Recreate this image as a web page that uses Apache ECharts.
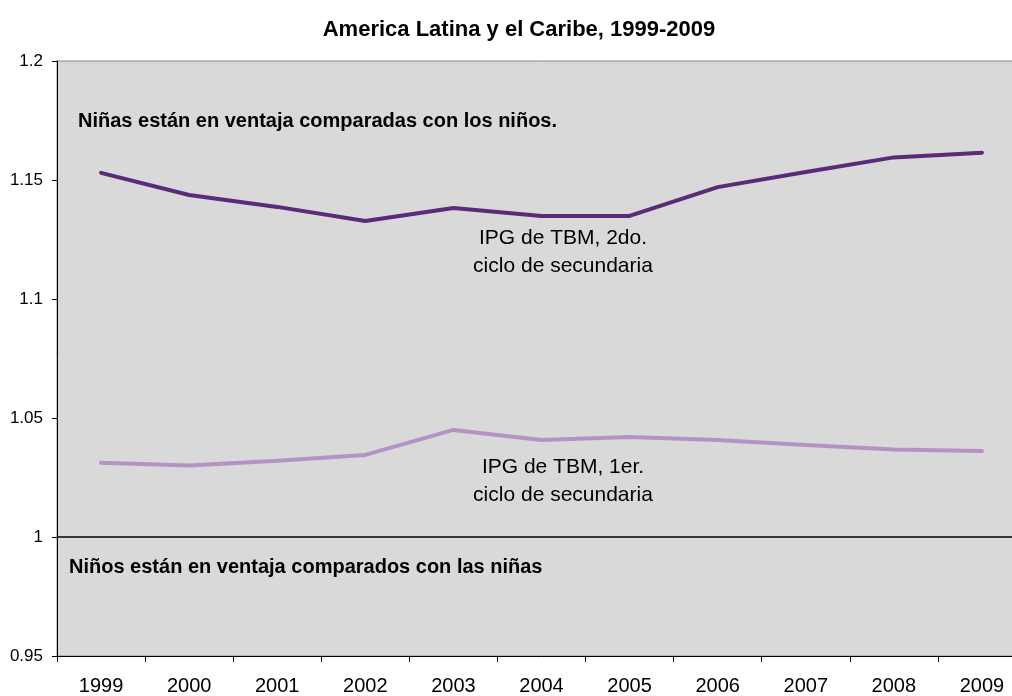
<!DOCTYPE html>
<html>
<head>
<meta charset="utf-8">
<script src="https://cdn.jsdelivr.net/npm/echarts@6/dist/echarts.min.js"></script>
<style>
  html, body { margin: 0; padding: 0; background: #fff; overflow: hidden; }
  #chart { width: 1040px; height: 696px; }
</style>
</head>
<body>
<div id="chart"></div>
<script>
// years on the x axis
var years = ["1999", "2000", "2001", "2002", "2003", "2004", "2005", "2006", "2007", "2008", "2009"];
// IPG de TBM, 2do. ciclo de secundaria
var segundoCiclo = [1.153, 1.1437, 1.1387, 1.1328, 1.1382, 1.1349, 1.1349, 1.147, 1.1534, 1.1595, 1.1615];
// IPG de TBM, 1er. ciclo de secundaria
var primerCiclo = [1.0312, 1.03, 1.032, 1.0345, 1.045, 1.0408, 1.042, 1.0408, 1.0387, 1.0368, 1.0361];

var myChart = echarts.init(document.getElementById("chart"));
var font = "Liberation Sans, Arial, sans-serif";

var option = {
  animation: false,
  title: {
    text: "America Latina y el Caribe, 1999-2009",
    left: 514,
    textAlign: "center",
    top: 14,
    textStyle: { fontFamily: font, fontSize: 22, fontWeight: "bold", color: "#000" },
  },
  grid: {
    left: 57,
    top: 61,
    width: 969,
    height: 595,
    show: true,
    backgroundColor: "#d9d9d9",
    borderColor: "#888",
    borderWidth: 1,
  },
  xAxis: {
    type: "category",
    data: years,
    boundaryGap: true,
    axisLine: { lineStyle: { color: "#000", width: 1 } },
    axisTick: { show: true, length: 6, interval: 0, lineStyle: { color: "#000" } },
    axisLabel: { fontFamily: font, fontSize: 20, color: "#000", margin: 20, interval: 0 },
    splitLine: { show: false },
  },
  yAxis: {
    type: "value",
    min: 0.95,
    max: 1.2,
    interval: 0.05,
    axisLine: { show: true, lineStyle: { color: "#000", width: 1 } },
    axisTick: { show: true, length: 5, lineStyle: { color: "#000" } },
    axisLabel: {
      fontFamily: font,
      fontSize: 17,
      color: "#000",
      margin: 14,
      formatter: function (v) {
        return String(+v.toFixed(2));
      },
    },
    splitLine: { show: false },
  },
  series: [
    {
      name: "IPG de TBM, 2do. ciclo de secundaria",
      type: "line",
      data: segundoCiclo,
      symbol: "none",
      lineStyle: { color: "#5b2a78", width: 4, cap: "round", join: "round" },
      markLine: {
        silent: true,
        symbol: "none",
        label: { show: false },
        lineStyle: { color: "#000", width: 1.5, type: "solid" },
        data: [{ yAxis: 1 }],
      },
    },
    {
      name: "IPG de TBM, 1er. ciclo de secundaria",
      type: "line",
      data: primerCiclo,
      symbol: "none",
      lineStyle: { color: "#b592c6", width: 4, cap: "round", join: "round" },
    },
  ],
  graphic: [
    {
      type: "text",
      x: 78,
      y: 121,
      style: {
        text: "Niñas están en ventaja comparadas con los niños.",
        fontFamily: font,
        fontSize: 20,
        fontWeight: "bold",
        verticalAlign: "middle",
        fill: "#000",
      },
    },
    {
      type: "text",
      x: 69,
      y: 567,
      style: {
        text: "Niños están en ventaja comparados con las niñas",
        fontFamily: font,
        fontSize: 20,
        fontWeight: "bold",
        verticalAlign: "middle",
        fill: "#000",
      },
    },
    {
      type: "text",
      x: 563,
      y: 252,
      style: {
        text: "IPG de TBM, 2do.\nciclo de secundaria",
        fontFamily: font,
        fontSize: 21,
        lineHeight: 28,
        align: "center",
        verticalAlign: "middle",
        fill: "#000",
      },
    },
    {
      type: "text",
      x: 563,
      y: 481,
      style: {
        text: "IPG de TBM, 1er.\nciclo de secundaria",
        fontFamily: font,
        fontSize: 21,
        lineHeight: 28,
        align: "center",
        verticalAlign: "middle",
        fill: "#000",
      },
    },
  ],
};
myChart.setOption(option);
</script>
</body>
</html>
